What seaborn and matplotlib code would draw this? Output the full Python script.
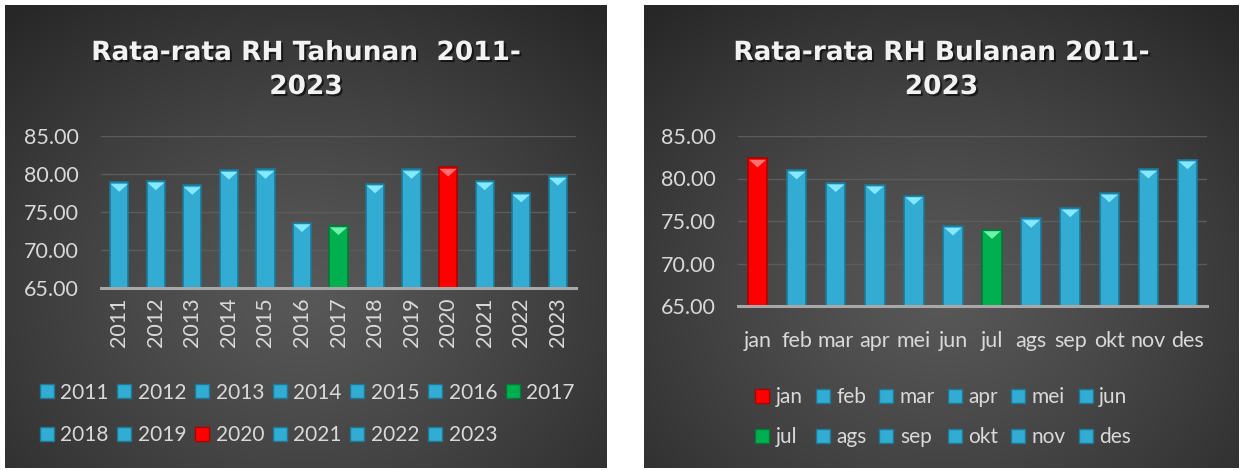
import numpy as np
import seaborn as sns
import matplotlib.pyplot as plt
from matplotlib.lines import Line2D
from matplotlib import patheffects as pe
from matplotlib.transforms import ScaledTranslation

# data
tahun = ["2011", "2012", "2013", "2014", "2015", "2016", "2017",
         "2018", "2019", "2020", "2021", "2022", "2023"]
rh_tahun = [78.9, 79.1, 78.5, 80.5, 80.6, 73.6, 73.2,
            78.7, 80.6, 80.9, 79.1, 77.5, 79.7]

bulan = ["jan", "feb", "mar", "apr", "mei", "jun",
         "jul", "ags", "sep", "okt", "nov", "des"]
rh_bulan = [82.4, 81.0, 79.5, 79.25, 78.0, 74.4,
            74.0, 75.3, 76.55, 78.3, 81.1, 82.2]

yticks = [65, 70, 75, 80, 85]

sns.set_style("white")
plt.rcParams["font.family"] = ["Lato", "DejaVu Sans"]

BLUE, BLUE_E, BLUE_CAP = "#32acd3", "#1d7895", "#84e8ff"
RED, RED_E, RED_CAP = "#ff0000", "#b00000", "#ff7070"
GREEN, GREEN_E, GREEN_CAP = "#00b050", "#007a36", "#6ff2ad"
TXT = "#d9d9d9"

W, H = 1240, 470
fig = plt.figure(figsize=(W / 100, H / 100), dpi=100)


def fbox(x0, y0, x1, y1):
    # pixel box (top-left origin) -> figure coords
    return [x0 / W, 1 - y1 / H, (x1 - x0) / W, (y1 - y0) / H]


def latar(box):
    bg = fig.add_axes(fbox(*box))
    yy, xx = np.mgrid[0:1:300j, 0:1:400j]
    r = np.sqrt(((xx - 0.5) / 0.75) ** 2 + ((yy - 0.62) / 0.8) ** 2)
    r = np.clip(r, 0, 1) ** 1.2
    c0 = np.array([0x58, 0x58, 0x58]) / 255
    c1 = np.array([0x27, 0x27, 0x27]) / 255
    img = c0 + (c1 - c0) * r[..., None]
    bg.imshow(img, extent=[0, 1, 0, 1], aspect="auto", origin="upper")
    bg.set_axis_off()


def panel(box, plot_box, kat, nilai, judul, rot, label_pad, leg_pos, ncol,
          labelspacing, colspace):
    latar(box)
    imax, imin = int(np.argmax(nilai)), int(np.argmin(nilai))
    warna = [BLUE] * len(kat)
    tepi = [BLUE_E] * len(kat)
    cap = [BLUE_CAP] * len(kat)
    warna[imax], tepi[imax], cap[imax] = RED, RED_E, RED_CAP
    warna[imin], tepi[imin], cap[imin] = GREEN, GREEN_E, GREEN_CAP

    ax = fig.add_axes(fbox(*plot_box))
    ax.set_facecolor("none")
    sns.barplot(x=kat, y=nilai, hue=kat, palette=warna, legend=False,
                width=0.5, saturation=1, ax=ax, zorder=3)
    for p, e in zip(ax.patches, tepi):
        p.set_edgecolor(e)
        p.set_linewidth(1.2)
    # bevel cap at top of each bar
    geser = ax.transData + ScaledTranslation(0, -4 / 72, fig.dpi_scale_trans)
    ax.scatter(range(len(kat)), nilai, marker=[(-1, 0.45), (1, 0.45), (0, -0.45)],
               s=150, c=cap, linewidths=0, transform=geser, zorder=4)

    ax.set_ylim(65, 85)
    ax.set_xlim(-0.5, len(kat) - 0.5)
    ax.set_yticks(yticks)
    ax.set_yticklabels([f"{v:.2f}" for v in yticks])
    ax.grid(axis="y", color="#5c5c5c", lw=1, zorder=0)
    ax.grid(axis="x", visible=False)
    for s in ["top", "right", "left"]:
        ax.spines[s].set_visible(False)
    ax.spines["bottom"].set_color("#a8a8a8")
    ax.spines["bottom"].set_linewidth(2.2)
    ax.spines["bottom"].set_zorder(5)
    ax.tick_params(axis="y", length=0, pad=16, labelsize=15.5, labelcolor=TXT)
    ax.tick_params(axis="x", length=0, pad=label_pad, labelsize=15.5,
                   labelcolor=TXT, labelrotation=rot)
    ax.set_xlabel("")
    ax.set_ylabel("")

    cx = (box[0] + box[2]) / 2 / W
    fig.text(cx, 1 - 70 / H, judul, ha="center", va="center", color="#f2f2f2",
             fontsize=19, fontweight="bold", family="DejaVu Sans",
             linespacing=1.4,
             path_effects=[pe.withSimplePatchShadow(offset=(1.5, -1.5),
                                                    shadow_rgbFace="black", alpha=0.6)])

    handles = [Line2D([], [], ls="none", marker="s", markersize=10,
                      markerfacecolor=c, markeredgecolor=e, markeredgewidth=1)
               for c, e in zip(warna, tepi)]
    nrow = 2
    urut = []
    for j in range(ncol):
        for i in range(nrow):
            k = i * ncol + j
            if k < len(kat):
                urut.append(k)
    fig.legend([handles[k] for k in urut], [kat[k] for k in urut],
               loc="center", bbox_to_anchor=leg_pos, ncol=ncol,
               frameon=False, fontsize=15, labelcolor=TXT,
               handlelength=0.7, handletextpad=0.3, columnspacing=colspace,
               labelspacing=labelspacing, borderpad=0)
    return ax


panel((5, 5, 607, 468), (101, 136, 576, 288), tahun, rh_tahun,
      "Rata-rata RH Tahunan  2011-\n2023", 90, 7,
      (307 / W, 1 - 414 / H), 7, 1.1, 0.4)
panel((644, 5, 1239, 468), (738, 136, 1207, 306), bulan, rh_bulan,
      "Rata-rata RH Bulanan 2011-\n2023", 0, 18,
      (943 / W, 1 - 417 / H), 6, 0.95, 0.6)

plt.savefig("out.png", dpi=100, facecolor="white")
